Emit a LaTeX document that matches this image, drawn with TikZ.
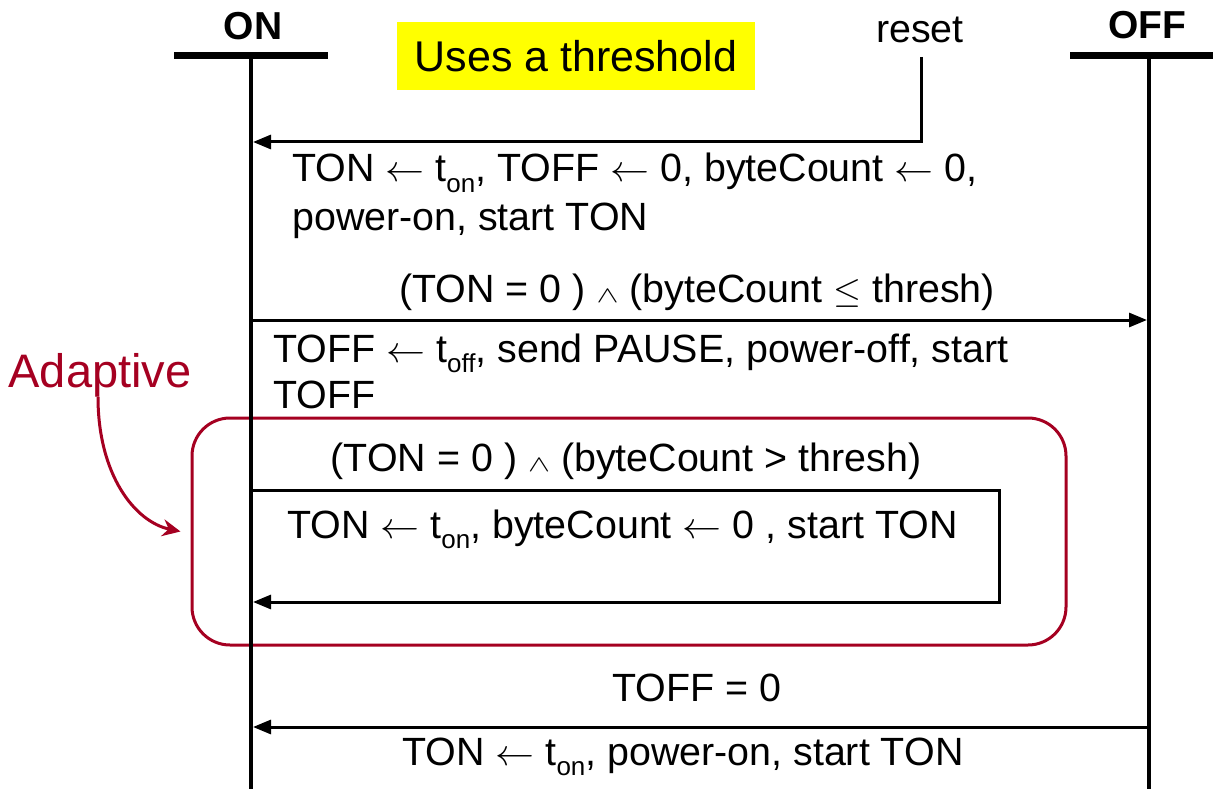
\documentclass[tikz,border=0pt]{standalone}
\usepackage{fontspec}
\setmainfont{Liberation Sans}
\usepackage{graphicx}
\usetikzlibrary{arrows.meta}

\definecolor{adapt}{RGB}{165,0,33}
\definecolor{hilite}{RGB}{255,255,0}

% lowered index such as t_on, t_off
\newcommand{\lowidx}[1]{\raisebox{-10pt}{\fontsize{26}{26}\selectfont #1}}
% math symbols set at 10pt and enlarged to the label size
\newcommand{\ga}{\scalebox{3.9}[3.7]{\fontsize{10}{12}\selectfont$\leftarrow$}}
\newcommand{\lesym}{\scalebox{3.6}{\fontsize{10}{12}\selectfont$\leq$}}
\newcommand{\andsym}{\scalebox{3.3}[2.3]{\fontsize{10}{12}\selectfont$\wedge$}}

\tikzset{
  lbl/.style={inner sep=0pt, font=\fontsize{39.4}{46}\selectfont},
  hdr/.style={inner sep=0pt, font=\fontsize{39}{46}\selectfont\bfseries},
  lifeline/.style={line width=4pt},
  headbar/.style={line width=7pt},
  msg/.style={line width=3pt, line join=miter, -{Triangle[length=18pt,width=14pt]}},
  adaptbox/.style={draw=adapt, line width=3pt, rounded corners=38pt, inner sep=0pt},
  adaptarrow/.style={draw=adapt, line width=3pt, -{Stealth[length=18pt,width=17pt,inset=6pt]}},
}

\begin{document}
\begin{tikzpicture}[x=1pt, y=-1pt]
\useasboundingbox (0,0) rectangle (1213,789);

% grouping box for the adaptive transition
\node[adaptbox, minimum width=874pt, minimum height=227pt] (adbox) at (629,531.5) {};

% lifelines with their header bars
\coordinate (onBarL) at (174,56);
\coordinate (onBarR) at (328,56);
\coordinate (offBarL) at (1070,56);
\coordinate (offBarR) at (1213,56);
\coordinate (onTop) at (251,58);
\coordinate (onBot) at (251,789);
\coordinate (offTop) at (1149,58);
\coordinate (offBot) at (1149,789);
\draw[headbar] (onBarL) -- (onBarR);
\draw[headbar] (offBarL) -- (offBarR);
\draw[lifeline] (onTop) -- (onBot);
\draw[lifeline] (offTop) -- (offBot);
\node[hdr, anchor=base] (onlbl) at (253,40) {ON};
\node[hdr, anchor=base] (offlbl) at (1147,39) {OFF};

% title tag
\node[fill=hilite, inner sep=0pt, minimum width=358pt, minimum height=68pt,
      font=\fontsize{43}{50}\selectfont] (thr) at (576,56) {Uses a threshold};

% reset entry
\node[lbl, anchor=base] (reset) at (920,43) {reset};
\coordinate (rsTop) at (921,57);
\coordinate (rsCorner) at (921,142);
\coordinate (rsEnd) at (253,142);
\draw[msg] (rsTop) -- (rsCorner) -- (rsEnd);
\node[lbl, anchor=base west] (a1) at (292,182) {TON \ga{} t\lowidx{on}, TOFF \ga{} 0, byteCount \ga{} 0,};
\node[lbl, anchor=base west] (a2) at (292,230) {power-on, start TON};

% ON -> OFF
\coordinate (m2s) at (251,320);
\coordinate (m2e) at (1147,320);
\draw[msg] (m2s) -- (m2e);
\node[lbl, anchor=base] (c2) at (697,302) {(TON = 0 ) \andsym{} (byteCount \lesym{} thresh)};
\node[lbl, anchor=base west] (b1) at (273,362) {TOFF \ga{} t\lowidx{off}, send PAUSE, power-off, start};
\node[lbl, anchor=base west] (b2) at (273,408) {TOFF};

% ON -> ON self loop
\coordinate (m3s) at (251,490);
\coordinate (m3a) at (999,490);
\coordinate (m3b) at (999,602);
\coordinate (m3e) at (253,602);
\draw[msg] (m3s) -- (m3a) -- (m3b) -- (m3e);
\node[lbl, anchor=base] (c3) at (626,471) {(TON = 0 ) \andsym{} (byteCount > thresh)};
\node[lbl, anchor=base west] (d1) at (287,538) {TON \ga{} t\lowidx{on}, byteCount \ga{} 0 , start TON};

% OFF -> ON
\coordinate (m4s) at (1149,727);
\coordinate (m4e) at (253,727);
\draw[msg] (m4s) -- (m4e);
\node[lbl, anchor=base] (c4) at (697,701) {TOFF = 0};
\node[lbl, anchor=base west] (e1) at (402,765) {TON \ga{} t\lowidx{on}, power-on, start TON};

% adaptive annotation
\node[inner sep=0pt, anchor=base, text=adapt, font=\fontsize{47}{52}\selectfont] (adlbl) at (100,387) {Adaptive};
\draw[adaptarrow] (98,397) .. controls (98,475) and (135,522) .. ([xshift=-10pt]adbox.west);
\end{tikzpicture}
\end{document}
